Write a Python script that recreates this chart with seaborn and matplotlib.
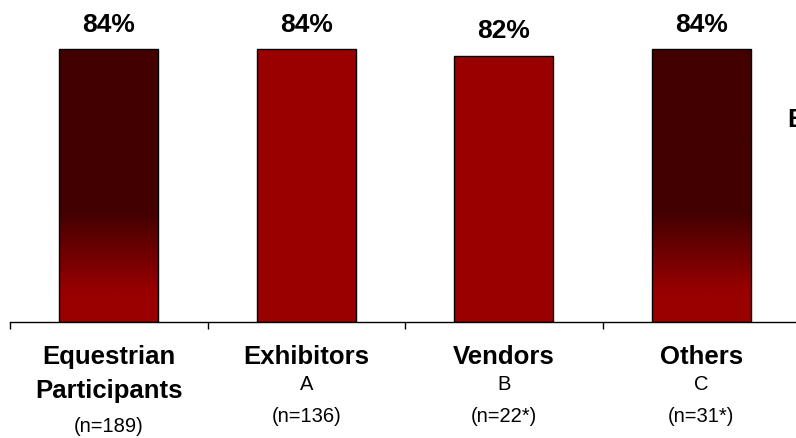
import numpy as np
import matplotlib
matplotlib.use('Agg')
import matplotlib.pyplot as plt
from matplotlib.colors import to_rgb
from matplotlib.transforms import blended_transform_factory
import seaborn as sns

# data
categories = ['Equestrian\nParticipants', 'Exhibitors', 'Vendors', 'Others']
letters = ['', 'A', 'B', 'C']
sample_sizes = ['(n=189)', '(n=136)', '(n=22*)', '(n=31*)']
values = [84, 84, 82, 84]

DARK = '#420000'
RED = '#990000'
bar_colors = [RED, RED, RED, RED]
gradient_bars = [0, 3]

sns.set_style('white')
plt.rcParams['font.family'] = ['Liberation Sans', 'DejaVu Sans']
plt.rcParams['text.color'] = 'black'

fig = plt.figure(figsize=(7.96, 4.38), dpi=100)
ax = fig.add_axes([10 / 796, 1 - 322 / 438, 790 / 796, 322 / 438])

sns.barplot(x=categories, y=values, hue=categories, palette=bar_colors, saturation=1,
            width=0.5, edgecolor='black', linewidth=1, legend=False, ax=ax)

# dark-to-red gradient on the first and last bar
for i in gradient_bars:
    p = ax.patches[i]
    x0, w, h = p.get_x(), p.get_width(), p.get_height()
    ys = np.linspace(0, h, 300)
    lo, hi = 9.5, 34.0
    t = np.clip((ys - lo) / (hi - lo), 0, 1)[:, None]
    col = (1 - t) * np.array(to_rgb(RED)) + t * np.array(to_rgb(DARK))
    img = ax.imshow(col[:, None, :], extent=[x0, x0 + w, 0, h], origin='lower',
                    aspect='auto', zorder=p.get_zorder() + 0.1, interpolation='bilinear')
    img.set_clip_path(p)
    p.set_facecolor('none')
    p.set_zorder(p.get_zorder() + 0.2)

ax.set_xlim(-0.5, 3.5)
ax.set_ylim(0, 322 / 3.25)

for p, v in zip(ax.patches, values):
    ax.annotate(f'{v}%', (p.get_x() + p.get_width() / 2, v), xytext=(0, 9),
                textcoords='offset points', ha='center', va='bottom',
                fontsize=19, fontweight='bold')

sns.despine(ax=ax, left=True, top=True, right=True)
ax.spines['bottom'].set_color('black')
ax.spines['bottom'].set_linewidth(1)
ax.set_yticks([])
ax.set_xticks([-0.5, 0.5, 1.5, 2.5, 3.5])
ax.set_xticklabels([])
ax.tick_params(axis='x', direction='out', length=5, width=1, color='black', bottom=True)
ax.set_xlabel('')
ax.set_ylabel('')

tr = blended_transform_factory(ax.transData, fig.transFigure)
def fy(py):
    return 1 - py / 438

for i, (cat, let, n) in enumerate(zip(categories, letters, sample_sizes)):
    if '\n' in cat:
        a, b = cat.split('\n')
        ax.text(i, fy(357), a, transform=tr, ha='center', va='center',
                fontsize=18.5, fontweight='bold')
        ax.text(i, fy(391), b, transform=tr, ha='center', va='center',
                fontsize=18.5, fontweight='bold')
        ax.text(i, fy(427), n, transform=tr, ha='center', va='center', fontsize=14.5)
    else:
        ax.text(i, fy(357), cat, transform=tr, ha='center', va='center',
                fontsize=18.5, fontweight='bold')
        ax.text(i, fy(385), let, transform=tr, ha='center', va='center', fontsize=14.5)
        ax.text(i, fy(417), n, transform=tr, ha='center', va='center', fontsize=14.5)

fig.text(787 / 796, fy(120), 'E', ha='left', va='center', fontsize=18.5, fontweight='bold')

plt.savefig('out.png', dpi=100)
plt.close()
